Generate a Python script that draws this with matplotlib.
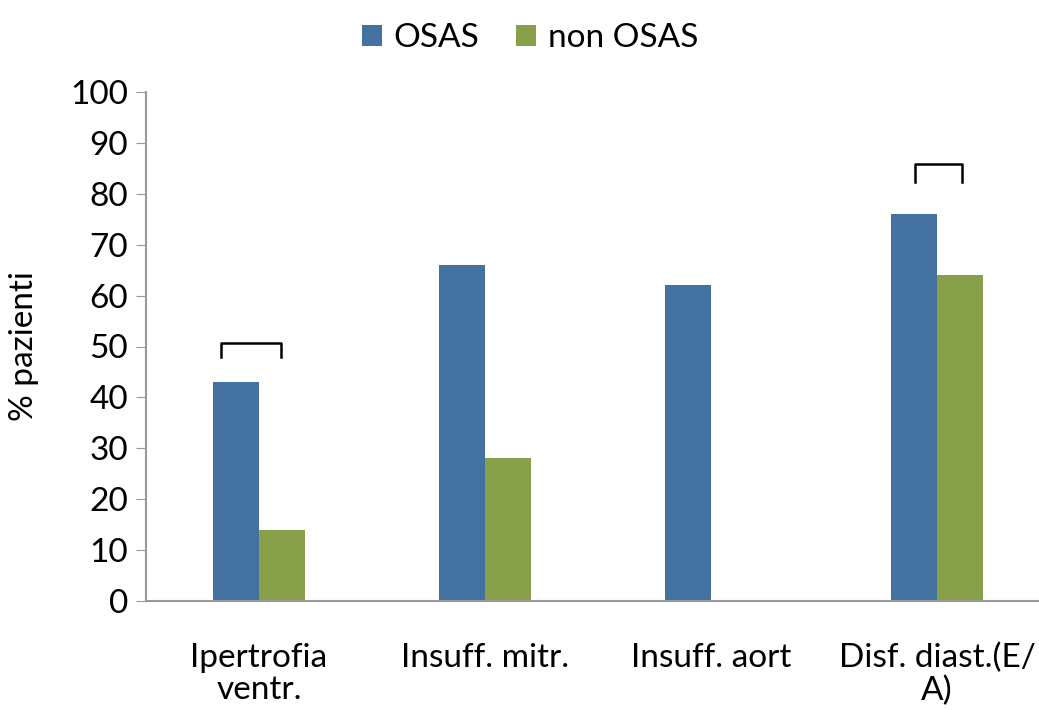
import numpy as np
import matplotlib.pyplot as plt

plt.rcParams['font.family'] = ['Lato', 'DejaVu Sans']

categories = ['Ipertrofia\nventr.', 'Insuff. mitr.', 'Insuff. aort', 'Disf. diast.(E/\nA)']
osas = [43, 66, 62, 76]
non_osas = [14, 28, 0, 64]

fig = plt.figure(figsize=(10.39, 7.10), dpi=100)
ax = fig.add_axes([146 / 1039, 1 - 601 / 710, 904 / 1039, 509 / 710])

x = np.arange(len(categories))
w = 0.204
ax.bar(x - w / 2, osas, w, color='#4472a0', label='OSAS')
ax.bar(x + w / 2, non_osas, w, color='#88a04a', label='non OSAS')

# significance brackets
def bracket(x0, x1, y0, y1):
    ax.plot([x0, x0, x1, x1], [y0, y1, y1, y0], color='black', lw=1.8, clip_on=False)

bracket(-0.168, 0.097, 48, 50.7)
bracket(3 - 0.097, 3 + 0.11, 82.3, 85.9)

ax.set_xlim(-0.5, 3.5)
ax.set_ylim(0, 100)
ax.set_yticks(range(0, 101, 10))
ax.set_xticks(x)
ax.set_xticklabels(categories, fontsize=24, linespacing=1.1)
ax.tick_params(axis='x', length=0, pad=30)
ax.tick_params(axis='y', labelsize=24, length=7, color='#999999', pad=6)
ax.set_ylabel('% pazienti', fontsize=24)
ax.yaxis.set_label_coords(-0.118, 0.5)

for s in ['top', 'right']:
    ax.spines[s].set_visible(False)
for s in ['left', 'bottom']:
    ax.spines[s].set_color('#999999')
    ax.spines[s].set_linewidth(1.5)

fig.legend(loc='upper center', bbox_to_anchor=(0.51, 1.01), ncol=2, frameon=False,
           fontsize=24, handlelength=0.6, handleheight=0.6, handletextpad=0.35,
           columnspacing=1.1)

fig.savefig('out.png', dpi=100)
